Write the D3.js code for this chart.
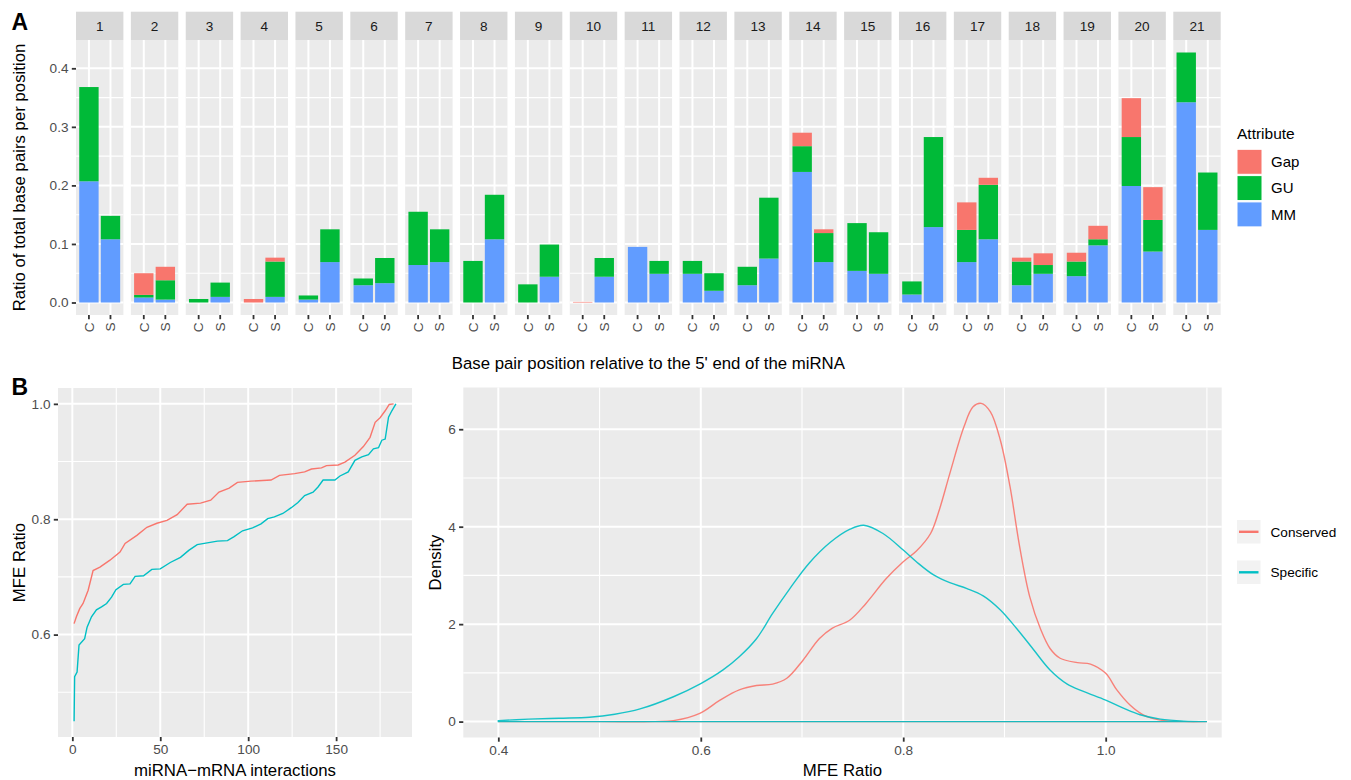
<!DOCTYPE html>
<html>
<head>
<meta charset="utf-8">
<script src="https://cdn.jsdelivr.net/npm/d3@7"></script>
<style>
body { margin: 0; background: #fff; }
svg { font-family: "Liberation Sans", Arial, sans-serif; }
</style>
</head>
<body>
<svg id="fig" width="1351" height="780"></svg>
<script>
// ---------- panel A: mismatch attributes per base pair position ----------
var positions = ["1","2","3","4","5","6","7","8","9","10","11","12","13","14","15","16","17","18","19","20","21"];
var groups = ["C", "S"];
var attributes = ["Gap", "GU", "MM"];
var attrColors = ["#F8766D", "#00BA38", "#619CFF"];
// segment heights (not cumulative)
var mmC  = [0.207, 0.0085, 0, 0, 0.005, 0.0295, 0.064, 0, 0, 0, 0.095, 0.049, 0.0295, 0.223, 0.054, 0.0136, 0.069, 0.0295, 0.045, 0.199, 0.342];
var guC  = [0.161, 0.0045, 0.006, 0, 0.007, 0.0115, 0.091, 0.071, 0.031, 0, 0, 0.022, 0.0315, 0.044, 0.0816, 0.0224, 0.055, 0.0405, 0.025, 0.0836, 0.085];
var gapC = [0, 0.037, 0, 0.006, 0, 0, 0, 0, 0, 0.001, 0, 0, 0, 0.023, 0, 0, 0.047, 0.0066, 0.015, 0.0664, 0];
var mmS  = [0.108, 0.005, 0.0096, 0.0096, 0.069, 0.033, 0.069, 0.108, 0.044, 0.044, 0.049, 0.020, 0.075, 0.069, 0.049, 0.1288, 0.108, 0.049, 0.0976, 0.087, 0.124];
var guS  = [0.040, 0.033, 0.0244, 0.0604, 0.056, 0.043, 0.056, 0.076, 0.055, 0.032, 0.022, 0.030, 0.104, 0.0496, 0.071, 0.1538, 0.093, 0.015, 0.0104, 0.054, 0.098];
var gapS = [0, 0.023, 0, 0.0066, 0, 0, 0, 0, 0, 0, 0, 0, 0, 0.0064, 0, 0, 0.012, 0.020, 0.023, 0.056, 0];
var yTicksA = [0, 0.1, 0.2, 0.3, 0.4];
var yMinorA = [0.05, 0.15, 0.25, 0.35];

// ---------- panel B left: sorted MFE ratio ----------
var seriesNames = ["Conserved", "Specific"];
var seriesColors = ["#F8766D", "#00BFC4"];
var consIdx = [1, 2.3, 4.2, 6.1, 9, 11.8, 15.7, 21.4, 27.1, 30, 36.7, 42.4, 48.1, 53.8, 59.6, 65.3, 72.9, 78.7, 83.4, 89.2, 93.9, 101.6, 113, 117.8, 126.4, 132.1, 136, 141.7, 144.5, 151.2, 155, 160.7, 165.5, 169.3, 172.2, 175, 177.9, 180.2, 182.7];
var consMfe = [0.619, 0.631, 0.645, 0.654, 0.677, 0.711, 0.717, 0.729, 0.743, 0.758, 0.772, 0.786, 0.793, 0.798, 0.808, 0.826, 0.828, 0.833, 0.847, 0.854, 0.864, 0.866, 0.868, 0.876, 0.879, 0.882, 0.887, 0.889, 0.893, 0.894, 0.899, 0.911, 0.926, 0.942, 0.968, 0.976, 0.988, 0.999, 1.0];
var specIdx = [1, 1.3, 2.7, 3.8, 7, 8.4, 10.9, 13.7, 16.6, 19.5, 22.3, 24.8, 29, 32.8, 35.7, 40.5, 45.2, 50, 55.7, 61.5, 66.2, 71, 76.7, 82.5, 88.2, 92, 96.8, 102.5, 107.3, 111.1, 114.9, 119.7, 124.5, 128.3, 132.1, 136.9, 139.7, 142.6, 149.3, 152.2, 156.9, 160.7, 164.6, 168.4, 171.2, 174.1, 176, 177.9, 179.8, 181.7, 184];
var specMfe = [0.45, 0.527, 0.535, 0.582, 0.593, 0.613, 0.631, 0.643, 0.648, 0.654, 0.665, 0.678, 0.687, 0.688, 0.701, 0.702, 0.713, 0.714, 0.725, 0.734, 0.746, 0.756, 0.759, 0.762, 0.763, 0.770, 0.780, 0.785, 0.792, 0.801, 0.804, 0.810, 0.820, 0.829, 0.841, 0.847, 0.856, 0.868, 0.868, 0.875, 0.882, 0.902, 0.908, 0.912, 0.922, 0.924, 0.937, 0.939, 0.977, 0.988, 1.0];
var xTicksB1 = [0, 50, 100, 150];
var xMinorB1 = [25, 75, 125, 175];
var yTicksB1 = [0.6, 0.8, 1.0];
var yMinorB1 = [0.5, 0.7, 0.9];

// ---------- panel B right: density of MFE ratio ----------
var consDensX = [0.40, 0.50, 0.555, 0.573, 0.599, 0.619, 0.638, 0.655, 0.671, 0.685, 0.701, 0.717, 0.730, 0.747, 0.763, 0.783, 0.800, 0.813, 0.827, 0.836, 0.846, 0.860, 0.869, 0.877, 0.886, 0.896, 0.9055, 0.915, 0.925, 0.936, 0.945, 0.955, 0.972, 0.985, 1.0, 1.011, 1.024, 1.037, 1.054, 1.077, 1.1];
var consDensY = [0, 0, 0, 0.02, 0.17, 0.44, 0.65, 0.74, 0.77, 0.89, 1.26, 1.70, 1.92, 2.08, 2.42, 2.93, 3.28, 3.50, 3.86, 4.37, 5.09, 6.05, 6.46, 6.53, 6.36, 5.77, 4.82, 3.59, 2.56, 1.88, 1.50, 1.30, 1.21, 1.18, 0.99, 0.65, 0.34, 0.14, 0.03, 0.0, 0];
var specDensX = [0.40, 0.43, 0.46, 0.49, 0.515, 0.540, 0.573, 0.600, 0.622, 0.638, 0.655, 0.671, 0.688, 0.707, 0.728, 0.7475, 0.761, 0.780, 0.800, 0.813, 0.830, 0.846, 0.863, 0.879, 0.896, 0.912, 0.929, 0.945, 0.962, 0.978, 1.0, 1.018, 1.034, 1.054, 1.077, 1.1];
var specDensY = [0.02, 0.05, 0.07, 0.09, 0.15, 0.26, 0.51, 0.78, 1.06, 1.33, 1.70, 2.22, 2.73, 3.25, 3.68, 3.95, 4.03, 3.86, 3.52, 3.28, 3.01, 2.85, 2.73, 2.58, 2.29, 1.91, 1.47, 1.06, 0.77, 0.62, 0.44, 0.27, 0.14, 0.05, 0.01, 0];
var xTicksB2 = [0.4, 0.6, 0.8, 1.0];
var xMinorB2 = [0.5, 0.7, 0.9, 1.1];
var yTicksB2 = [0, 2, 4, 6];
var yMinorB2 = [1, 3, 5];

var tickFont = "13.6px", titleFont = "16.8px";
var svg = d3.select("#fig");

// ggplot-ish panel: grey background + white grid
function drawPanel(g, x0, x1, y0, y1, xs, ys, xMaj, xMin, yMaj, yMin) {
    g.append("rect").attr("x", x0).attr("y", y1).attr("width", x1 - x0).attr("height", y0 - y1).attr("fill", "#EBEBEB");
    g.selectAll("line.ymin").data(yMin).join("line").attr("class", "ymin")
        .attr("x1", x0).attr("x2", x1).attr("y1", ys).attr("y2", ys)
        .attr("stroke", "#fff").attr("stroke-width", 1.1);
    g.selectAll("line.xmin").data(xMin).join("line").attr("class", "xmin")
        .attr("y1", y0).attr("y2", y1).attr("x1", xs).attr("x2", xs)
        .attr("stroke", "#fff").attr("stroke-width", 1.1);
    g.selectAll("line.ymaj").data(yMaj).join("line").attr("class", "ymaj")
        .attr("x1", x0).attr("x2", x1).attr("y1", ys).attr("y2", ys)
        .attr("stroke", "#fff").attr("stroke-width", 2);
    g.selectAll("line.xmaj").data(xMaj).join("line").attr("class", "xmaj")
        .attr("y1", y0).attr("y2", y1).attr("x1", xs).attr("x2", xs)
        .attr("stroke", "#fff").attr("stroke-width", 2);
}

function styleAxis(g) {
    g.select(".domain").remove();
    g.selectAll(".tick line").attr("stroke", "#333").attr("stroke-width", 1.8);
    g.selectAll(".tick text").attr("fill", "#4D4D4D").style("font-size", tickFont)
        .style("font-family", "'Liberation Sans', Arial, sans-serif");
}

// ================= PANEL A =================
var A = {left: 76, right: 1220.7, top: 40, bottom: 315, stripTop: 11.7};
var rows = [];
positions.forEach(function(p, i) {
    rows.push({pos: p, grp: "C", MM: mmC[i], GU: guC[i], Gap: gapC[i]});
    rows.push({pos: p, grp: "S", MM: mmS[i], GU: guS[i], Gap: gapS[i]});
});
var stacked = d3.stack().keys(["MM", "GU", "Gap"])(rows);
var colorA = d3.scaleOrdinal().domain(attributes).range(attrColors);
var maxA = d3.max(rows, d => d.MM + d.GU + d.Gap);
var yA = d3.scaleLinear().domain([-0.05 * maxA, maxA * 1.05]).range([A.bottom, A.top]);
var facet = d3.scaleBand().domain(positions).range([A.left, A.right]).paddingInner(0.136);
var inner = d3.scaleBand().domain(groups).range([0, facet.bandwidth()]).paddingInner(0.1).paddingOuter(0.15);

var gA = svg.append("g");
positions.forEach(function(p) {
    var fg = gA.append("g").attr("transform", "translate(" + facet(p) + ",0)");
    var bw = facet.bandwidth();
    drawPanel(fg, 0, bw, A.bottom, A.top, d => inner(d) + inner.bandwidth() / 2, d => yA(d),
        groups, [], yTicksA, yMinorA);
    stacked.forEach(function(layer) {
        fg.selectAll("rect.bar-" + layer.key)
            .data(layer.filter(d => d.data.pos === p))
            .join("rect").attr("class", "bar-" + layer.key)
            .attr("x", d => inner(d.data.grp))
            .attr("width", inner.bandwidth())
            .attr("y", d => yA(d[1]))
            .attr("height", d => yA(d[0]) - yA(d[1]))
            .attr("fill", colorA(layer.key));
    });
    // strip
    fg.append("rect").attr("x", 0).attr("y", A.stripTop).attr("width", bw).attr("height", A.top - A.stripTop)
        .attr("fill", "#D9D9D9");
    fg.append("text").attr("x", bw / 2).attr("y", (A.stripTop + A.top) / 2).attr("dy", "0.35em")
        .attr("text-anchor", "middle").attr("fill", "#1A1A1A").style("font-size", tickFont).text(p);
    // x axis
    var xa = fg.append("g").attr("transform", "translate(0," + A.bottom + ")")
        .call(d3.axisBottom(inner).tickSize(4.2).tickPadding(3.3));
    styleAxis(xa);
    xa.selectAll(".tick text").attr("transform", "rotate(-90)").attr("text-anchor", "end")
        .attr("x", -7.5).attr("y", 0).attr("dy", "0.35em");
});
var yaA = gA.append("g").attr("transform", "translate(" + A.left + ",0)")
    .call(d3.axisLeft(yA).tickValues(yTicksA).tickFormat(d3.format(".1f")).tickSize(4.2).tickPadding(3.3));
styleAxis(yaA);
gA.append("text").attr("transform", "translate(19," + (A.top + A.bottom) / 2 + ") rotate(-90)")
    .attr("dy", "0.35em").attr("text-anchor", "middle").style("font-size", titleFont)
    .text("Ratio of total base pairs per position");
gA.append("text").attr("x", (A.left + A.right) / 2).attr("y", 368.5).attr("text-anchor", "middle")
    .style("font-size", titleFont).text("Base pair position relative to the 5' end of the miRNA");
// legend
var legA = gA.append("g").attr("transform", "translate(1237,0)");
legA.append("text").attr("x", 0).attr("y", 138.5).style("font-size", "15.5px").text("Attribute");
legA.selectAll("rect.key").data(attributes).join("rect").attr("class", "key")
    .attr("x", 0).attr("y", (d, i) => 149.3 + i * 26.3).attr("width", 25).attr("height", 25)
    .attr("fill", d => colorA(d)).attr("stroke", "#fff").attr("stroke-width", 1);
legA.selectAll("text.lab").data(attributes).join("text").attr("class", "lab")
    .attr("x", 34).attr("y", (d, i) => 149.3 + i * 26.3 + 12.5).attr("dy", "0.35em")
    .style("font-size", "15px").text(d => d);
gA.append("text").attr("x", 11.5).attr("y", 29.5).style("font-size", "23px").style("font-weight", "bold").text("A");

// ================= PANEL B left =================
var B1 = {left: 58, right: 412, top: 388, bottom: 737};
var allIdx = consIdx.concat(specIdx), allMfe = consMfe.concat(specMfe);
var ix = d3.extent(allIdx), iy = d3.extent(allMfe);
var xB1 = d3.scaleLinear().domain([ix[0] - 0.05 * (ix[1] - ix[0]), ix[1] + 0.05 * (ix[1] - ix[0])]).range([B1.left, B1.right]);
var yB1 = d3.scaleLinear().domain([iy[0] - 0.05 * (iy[1] - iy[0]), iy[1] + 0.05 * (iy[1] - iy[0])]).range([B1.bottom, B1.top]);
var gB1 = svg.append("g");
drawPanel(gB1, B1.left, B1.right, B1.bottom, B1.top, d => xB1(d), d => yB1(d), xTicksB1, xMinorB1, yTicksB1, yMinorB1);
var lineB1 = d3.line().x(d => xB1(d[0])).y(d => yB1(d[1]));
var b1Series = [d3.zip(consIdx, consMfe), d3.zip(specIdx, specMfe)];
gB1.selectAll("path.series").data(b1Series).join("path").attr("class", "series")
    .attr("d", lineB1).attr("fill", "none")
    .attr("stroke", (d, i) => seriesColors[i]).attr("stroke-width", 1.4);
styleAxis(gB1.append("g").attr("transform", "translate(0," + B1.bottom + ")")
    .call(d3.axisBottom(xB1).tickValues(xTicksB1).tickSize(4.2).tickPadding(3.3)));
styleAxis(gB1.append("g").attr("transform", "translate(" + B1.left + ",0)")
    .call(d3.axisLeft(yB1).tickValues(yTicksB1).tickFormat(d3.format(".1f")).tickSize(4.2).tickPadding(3.3)));
gB1.append("text").attr("transform", "translate(19," + (B1.top + B1.bottom) / 2 + ") rotate(-90)")
    .attr("dy", "0.35em").attr("text-anchor", "middle").style("font-size", titleFont).text("MFE Ratio");
gB1.append("text").attr("x", (B1.left + B1.right) / 2).attr("y", 775.5).attr("text-anchor", "middle")
    .style("font-size", titleFont).text("miRNA\u2212mRNA interactions");
gB1.append("text").attr("x", 11.5).attr("y", 395).style("font-size", "23px").style("font-weight", "bold").text("B");

// ================= PANEL B right =================
var B2 = {left: 463.3, right: 1221.7, top: 387.5, bottom: 737.5};
var maxD = d3.max(consDensY.concat(specDensY));
var xB2 = d3.scaleLinear().domain([0.3654, 1.1146]).range([B2.left, B2.right]);
var yB2 = d3.scaleLinear().domain([-0.05 * maxD, maxD * 1.05]).range([B2.bottom, B2.top]);
var gB2 = svg.append("g");
drawPanel(gB2, B2.left, B2.right, B2.bottom, B2.top, d => xB2(d), d => yB2(d), xTicksB2, xMinorB2, yTicksB2, yMinorB2);
var areaB2 = d3.area().x(d => xB2(d[0])).y0(yB2(0)).y1(d => yB2(d[1])).curve(d3.curveCatmullRom.alpha(0.5));
var b2Series = [d3.zip(consDensX, consDensY), d3.zip(specDensX, specDensY)];
gB2.selectAll("path.dens").data(b2Series).join("path").attr("class", "dens")
    .attr("d", areaB2).attr("fill", "none")
    .attr("stroke", (d, i) => seriesColors[i]).attr("stroke-width", 1.4).attr("stroke-opacity", 0.9);
styleAxis(gB2.append("g").attr("transform", "translate(0," + B2.bottom + ")")
    .call(d3.axisBottom(xB2).tickValues(xTicksB2).tickFormat(d3.format(".1f")).tickSize(4.2).tickPadding(3.3)));
styleAxis(gB2.append("g").attr("transform", "translate(" + B2.left + ",0)")
    .call(d3.axisLeft(yB2).tickValues(yTicksB2).tickSize(4.2).tickPadding(3.3)));
gB2.append("text").attr("transform", "translate(435," + (B2.top + B2.bottom) / 2 + ") rotate(-90)")
    .attr("dy", "0.35em").attr("text-anchor", "middle").style("font-size", titleFont).text("Density");
gB2.append("text").attr("x", (B2.left + B2.right) / 2).attr("y", 775.5).attr("text-anchor", "middle")
    .style("font-size", titleFont).text("MFE Ratio");
// legend
var legB = gB2.append("g").attr("transform", "translate(1237,0)");
legB.selectAll("rect.key").data(seriesNames).join("rect").attr("class", "key")
    .attr("x", 0).attr("y", (d, i) => 520 + i * 40.5).attr("width", 23.5).attr("height", 23.5).attr("fill", "#F2F2F2");
legB.selectAll("line.key").data(seriesNames).join("line").attr("class", "key")
    .attr("x1", 2).attr("x2", 21.5).attr("y1", (d, i) => 531.8 + i * 40.5).attr("y2", (d, i) => 531.8 + i * 40.5)
    .attr("stroke", (d, i) => seriesColors[i]).attr("stroke-width", 2.4);
legB.selectAll("text.lab").data(seriesNames).join("text").attr("class", "lab")
    .attr("x", 33.5).attr("y", (d, i) => 531.8 + i * 40.5).attr("dy", "0.35em")
    .style("font-size", tickFont).text(d => d);
</script>
</body>
</html>
